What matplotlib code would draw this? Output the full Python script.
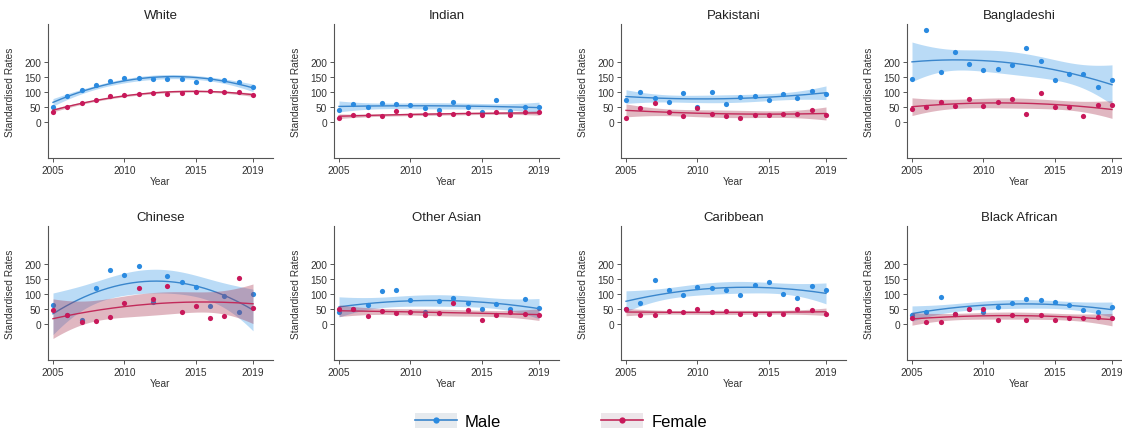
import numpy as np
import matplotlib
matplotlib.use("Agg")
import matplotlib.pyplot as plt
from matplotlib.lines import Line2D
from matplotlib.patches import Patch

matplotlib.rcParams.update({"font.family": "Liberation Sans", "font.size": 7})

YEARS = np.arange(2005, 2020)
GROUPS = ["White", "Indian", "Pakistani", "Bangladeshi",
          "Chinese", "Other Asian", "Caribbean", "Black African"]

MALE = {
    "White":        [50, 86, 106, 122, 135, 145, 147, 143, 143, 144, 133, 141, 138, 133, 115],
    "Indian":       [40, 59, 51, 64, 59, 56, 46, 40, 66, 51, 33, 73, 36, 51, 51],
    "Pakistani":    [72, 99, 80, 66, 96, 51, 99, 60, 83, 86, 72, 91, 80, 103, 93],
    "Bangladeshi":  [141, 306, 166, 232, 193, 172, 177, 190, 246, 201, 138, 159, 159, 115, 140],
    "Chinese":      [61, 30, 14, 119, 179, 162, 191, 72, 160, 140, 124, 59, 94, 41, 99],
    "Other Asian":  [41, 50, 62, 108, 113, 79, 41, 76, 87, 69, 50, 67, 48, 83, 53],
    "Caribbean":    [50, 70, 147, 113, 96, 123, 120, 114, 97, 128, 139, 99, 86, 127, 111],
    "Black African": [28, 41, 88, 34, 50, 41, 56, 69, 82, 78, 73, 63, 46, 38, 57],
}
FEMALE = {
    "White":        [33, 51, 63, 74, 85, 90, 94, 95, 93, 96, 99, 102, 99, 99, 90],
    "Indian":       [12, 24, 24, 18, 35, 24, 25, 25, 25, 28, 24, 32, 23, 32, 33],
    "Pakistani":    [12, 46, 63, 33, 18, 45, 25, 20, 13, 22, 23, 27, 27, 41, 22],
    "Bangladeshi":  [44, 51, 67, 53, 77, 54, 67, 77, 27, 97, 51, 49, 18, 56, 55],
    "Chinese":      [46, 28, 6, 8, 23, 69, 119, 84, 126, 38, 60, 20, 27, 151, 52],
    "Other Asian":  [48, 51, 27, 42, 37, 38, 31, 36, 68, 46, 12, 28, 38, 32, 31],
    "Caribbean":    [49, 28, 28, 44, 39, 48, 39, 43, 34, 32, 33, 32, 50, 47, 34],
    "Black African": [18, 7, 7, 34, 50, 50, 12, 30, 12, 29, 12, 19, 18, 23, 21],
}

BLUE_DOT, BLUE_LINE, BLUE_BAND = "#2a8ae0", "#3a86cc", "#3a9ae8"
RED_DOT, RED_LINE, RED_BAND = "#c8185a", "#c22a5a", "#a8334f"
T_CRIT = 2.179  # t(0.975, df=12)


def qfit_ci(x, y, grid):
    # quadratic fit with 95% CI of the mean prediction
    xc = x - x.mean()
    gc = grid - x.mean()
    X = np.column_stack([np.ones_like(xc), xc, xc ** 2])
    G = np.column_stack([np.ones_like(gc), gc, gc ** 2])
    beta, *_ = np.linalg.lstsq(X, y, rcond=None)
    resid = y - X @ beta
    s2 = resid @ resid / (len(y) - 3)
    cov = np.linalg.inv(X.T @ X) * s2
    fit = G @ beta
    se = np.sqrt(np.einsum("ij,jk,ik->i", G, cov, G))
    return fit, fit - T_CRIT * se, fit + T_CRIT * se


fig = plt.figure(figsize=(11.22, 4.35), dpi=100)
W, H = 1122, 435
lefts = [48, 334, 621, 907]
tops = [25, 227]
grid = np.linspace(2005, 2019, 200)
x = YEARS.astype(float)

for i, name in enumerate(GROUPS):
    r, c = divmod(i, 4)
    ax = fig.add_axes([lefts[c] / W, 1 - (tops[r] + 134) / H, 225 / W, 134 / H])
    m = np.array(MALE[name], float)
    f = np.array(FEMALE[name], float)

    fit, lo, hi = qfit_ci(x, m, grid)
    ax.fill_between(grid, lo, hi, color=BLUE_BAND, alpha=0.35, lw=0, zorder=1)
    ax.plot(grid, fit, color=BLUE_LINE, lw=1.0, zorder=2)
    ax.scatter(x, m, s=14, color=BLUE_DOT, lw=0, zorder=2)

    fit, lo, hi = qfit_ci(x, f, grid)
    ax.fill_between(grid, lo, hi, color=RED_BAND, alpha=0.35, lw=0, zorder=3)
    ax.plot(grid, fit, color=RED_LINE, lw=1.0, zorder=4)
    ax.scatter(x, f, s=14, color=RED_DOT, lw=0, zorder=4)

    ax.set_xlim(2004.65, 2020.4)
    ax.set_ylim(-120, 325)
    ax.set_xticks([2005, 2010, 2015, 2019])
    ax.set_yticks([0, 50, 100, 150, 200])
    for s in ("top", "right"):
        ax.spines[s].set_visible(False)
    for s in ("left", "bottom"):
        ax.spines[s].set_color("#555555")
        ax.spines[s].set_linewidth(0.8)
    ax.tick_params(length=3, width=0.7, color="#555555", labelcolor="#333333",
                   labelsize=7.3, pad=2)
    ax.set_title(name, fontsize=9.5, color="#222222", pad=4)
    ax.set_xlabel("Year", fontsize=7.3, color="#333333", labelpad=1)
    ax.set_ylabel("Standardised Rates", fontsize=7.3, color="#333333")
    ax.yaxis.set_label_coords(-0.145, 0.5)

h_male = (Patch(facecolor="#e6eaee", edgecolor="none"),
          Line2D([], [], color=BLUE_LINE, lw=1.2, marker="o", ms=4.5,
                 markerfacecolor=BLUE_DOT, markeredgewidth=0))
h_female = (Patch(facecolor="#ede6ea", edgecolor="none"),
            Line2D([], [], color=RED_LINE, lw=1.2, marker="o", ms=4.5,
                   markerfacecolor=RED_DOT, markeredgewidth=0))
fig.legend([h_male, h_female], ["Male", "Female"], loc="center",
           bbox_to_anchor=(0.5, 1 - 422 / H), ncol=2, frameon=False,
           fontsize=12, handlelength=2.5, handleheight=1.0,
           columnspacing=6, handletextpad=0.5)

fig.savefig("out.png", dpi=100)
